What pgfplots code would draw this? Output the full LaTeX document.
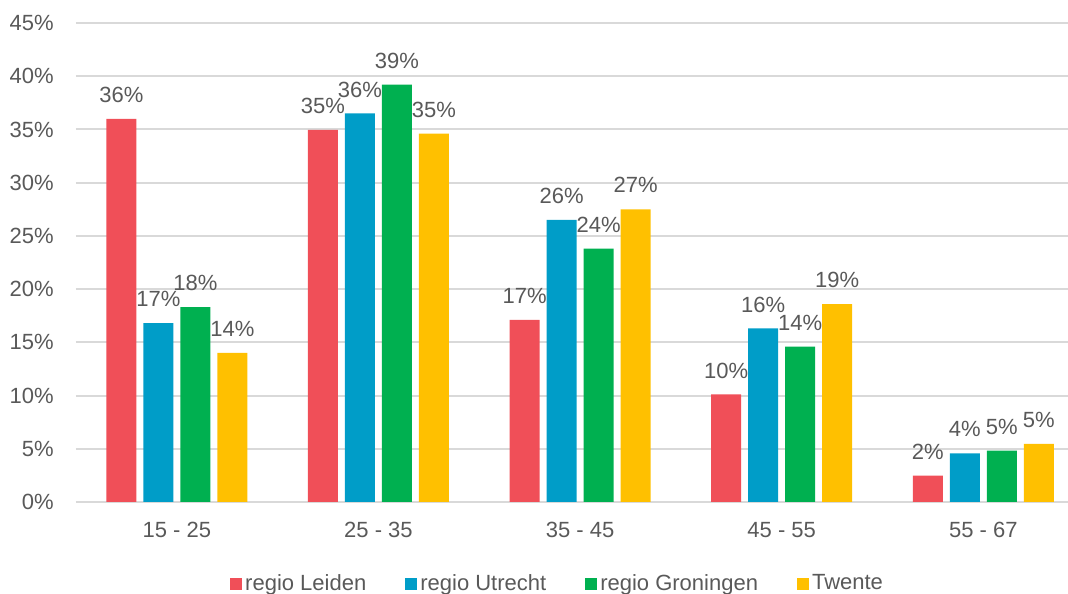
\documentclass[border=0pt]{standalone}
\usepackage{pgfplots}
\pgfplotsset{compat=1.18}
\usepackage{fontspec}
\setmainfont{Liberation Sans}
\definecolor{cLeiden}{HTML}{F04F58}
\definecolor{cUtrecht}{HTML}{009DC8}
\definecolor{cGron}{HTML}{00B050}
\definecolor{cTwente}{HTML}{FFC000}
\definecolor{txt}{HTML}{595959}
\definecolor{gridc}{HTML}{D9D9D9}
\newcommand{\cf}{\fontsize{11}{13}\selectfont}
\begin{document}
\begin{tikzpicture}
\begin{axis}[name=ax, scale only axis, width=496pt, height=239.5pt,
  xmin=-0.5, xmax=4.42, ymin=0, ymax=45,
  ybar=3.5pt, bar width=15pt,
  axis line style={draw=none}, major tick length=0pt,
  ymajorgrids, grid style={gridc, line width=1pt},
  ytick={0,5,...,45},
  yticklabels={0\%,5\%,10\%,15\%,20\%,25\%,30\%,35\%,40\%,45\%},
  xtick={0,1,2,3,4},
  xticklabels={15 - 25,25 - 35,35 - 45,45 - 55,55 - 67},
  tick label style={text=txt, font=\cf},
  yticklabel style={inner sep=0pt, xshift=-11pt, anchor=east},
  xticklabel style={inner sep=0pt, yshift=-10pt, anchor=north},
  point meta=explicit symbolic,
  nodes near coords,
  nodes near coords style={anchor=south, inner sep=0pt, yshift=8pt, text=txt, font=\cf, text depth=0pt},
  legend columns=-1,
  legend style={draw=none, fill=none, at={(0.486,-0.171)}, anchor=center, font=\cf, text=txt,
    /tikz/every even column/.append style={column sep=18pt}, nodes={inner sep=1.5pt}},
  leg/.style={legend image code/.code={\fill[##1] (0pt,-3pt) rectangle (6pt,3pt);}},
]
\addplot[fill=cLeiden, draw=none, leg] coordinates {(0,36.0) [36\%] (1,34.95) [35\%] (2,17.1) [17\%] (3,10.1) [10\%] (4,2.47) [2\%]};
\addlegendentry{regio Leiden}
\addplot[fill=cUtrecht, draw=none, leg] coordinates {(0,16.8) [17\%] (1,36.5) [36\%] (2,26.5) [26\%] (3,16.3) [16\%] (4,4.57) [4\%]};
\addlegendentry{regio Utrecht}
\addplot[fill=cGron, draw=none, leg] coordinates {(0,18.3) [18\%] (1,39.2) [39\%] (2,23.8) [24\%] (3,14.6) [14\%] (4,4.82) [5\%]};
\addlegendentry{regio Groningen}
\addplot[fill=cTwente, draw=none, leg] coordinates {(0,14.0) [14\%] (1,34.6) [35\%] (2,27.5) [27\%] (3,18.6) [19\%] (4,5.45) [5\%]};
\addlegendentry{Twente}
\end{axis}
\pgfresetboundingbox
\path ([xshift=-38pt,yshift=-46pt]ax.south west) rectangle ([yshift=11.5pt]ax.north east);
\end{tikzpicture}
\end{document}
